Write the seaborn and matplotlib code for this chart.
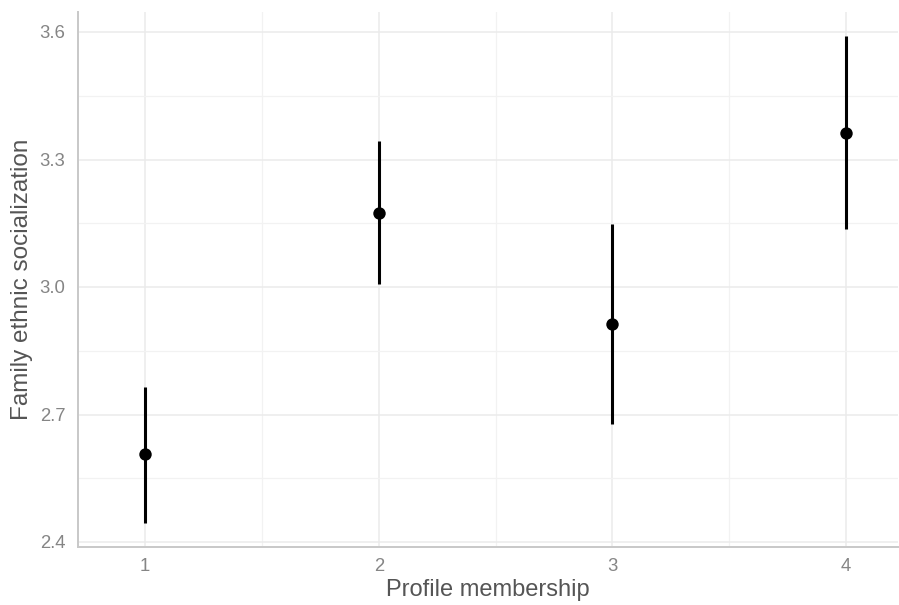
import matplotlib
matplotlib.use("Agg")
import matplotlib.pyplot as plt
import seaborn as sns
import pandas as pd
from matplotlib.ticker import FixedLocator

profiles = [1, 2, 3, 4]
means = [2.606, 3.175, 2.913, 3.362]
lower = [2.445, 3.007, 2.678, 3.136]
upper = [2.765, 3.344, 3.148, 3.591]
y_ticks = [2.4, 2.7, 3.0, 3.3, 3.6]
y_tick_labels = ["2.4", "2.7", "3.0", "3.3", "3.6"]

df = pd.DataFrame({"profile": profiles, "mean": means, "lower": lower, "upper": upper})

sns.set_theme(style="whitegrid")
plt.rcParams["font.family"] = ["Liberation Sans", "DejaVu Sans"]

fig = plt.figure(figsize=(8.99, 6.05), dpi=100)
ax = fig.add_axes([78 / 899, 58 / 605, (898 - 78) / 899, (547 - 12) / 605])

ax.vlines(df["profile"], df["lower"], df["upper"], color="black", linewidth=2.2, zorder=3)
sns.scatterplot(data=df, x="profile", y="mean", color="black", s=80, edgecolor="black",
                linewidth=0, ax=ax, zorder=4)

ax.set_xlim(1 - 67 / 233.3, 4 + 52 / 233.3)
ax.set_ylim(2.4 - 5 / 425, 3.6 + 20 / 425)
ax.xaxis.set_major_locator(FixedLocator(profiles))
ax.xaxis.set_minor_locator(FixedLocator([1.5, 2.5, 3.5]))
ax.set_yticks(y_ticks)
ax.set_yticklabels(y_tick_labels)
ax.yaxis.set_minor_locator(FixedLocator([2.55, 2.85, 3.15, 3.45]))

ax.set_facecolor("white")
ax.grid(which="major", color="#ebebeb", linewidth=1.1)
ax.grid(which="minor", color="#f2f2f2", linewidth=0.9)
ax.set_axisbelow(True)

for side in ["top", "right"]:
    ax.spines[side].set_visible(False)
for side in ["left", "bottom"]:
    ax.spines[side].set_visible(True)
    ax.spines[side].set_color("#c8c8c8")
    ax.spines[side].set_linewidth(1.4)

ax.tick_params(axis="both", which="both", length=0, labelsize=13.3, labelcolor="#858585")
ax.tick_params(axis="y", pad=9)
ax.tick_params(axis="x", pad=8)

ax.set_xlabel("Profile membership", fontsize=17, color="#555555", labelpad=3)
ax.set_ylabel("Family ethnic socialization", fontsize=17.5, color="#555555", labelpad=5)

fig.savefig("out.png", dpi=100, facecolor="white")
